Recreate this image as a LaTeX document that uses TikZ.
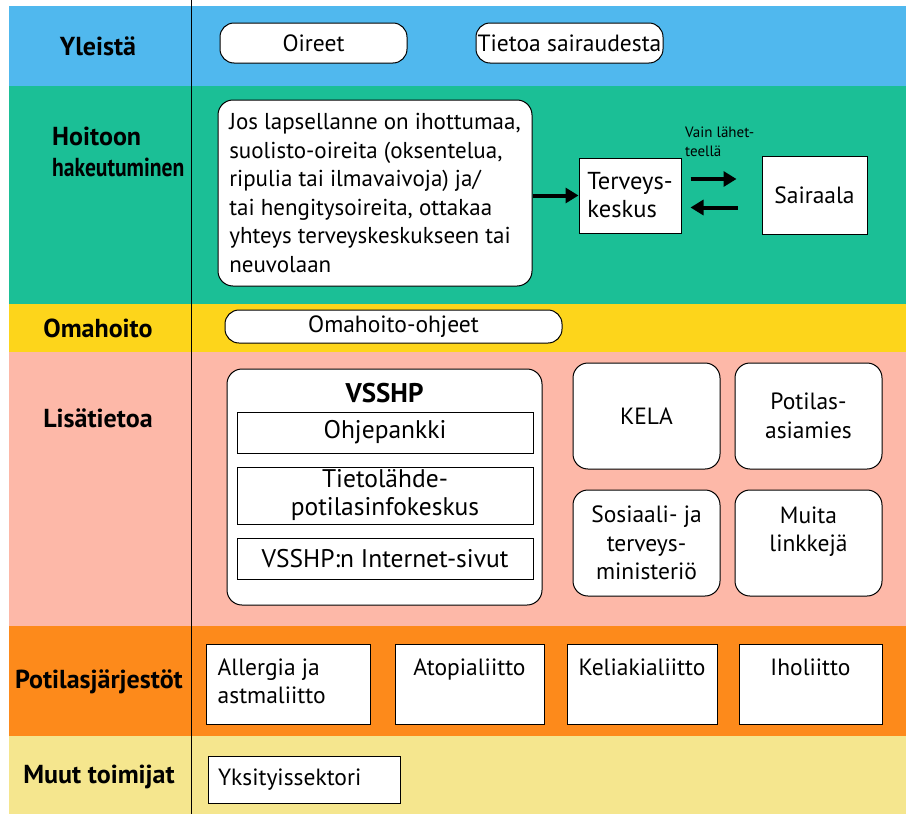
\documentclass[tikz,border=0pt]{standalone}
\usepackage{fontspec}
\setmainfont{PT Sans}
\usetikzlibrary{positioning, arrows.meta}

\definecolor{yleiscol}{RGB}{80,184,238}
\definecolor{hoitocol}{RGB}{27,191,150}
\definecolor{omacol}{RGB}{253,213,27}
\definecolor{lisacol}{RGB}{253,184,168}
\definecolor{jarjcol}{RGB}{253,138,27}
\definecolor{muutcol}{RGB}{245,230,142}

\begin{document}
\begin{tikzpicture}[
  x=1pt, y=-1pt,
  node distance=14pt,
  bandlabel/.style={font=\fontsize{26}{31}\selectfont\bfseries, align=left, inner sep=0pt},
  pill/.style={rectangle, rounded corners=14pt, draw, fill=white, line width=1pt, font=\fontsize{23.5}{28.5}\selectfont, inner sep=0pt},
  roundbox/.style={rectangle, rounded corners=15pt, draw, fill=white, line width=1pt, font=\fontsize{23.5}{28.5}\selectfont, align=center, inner sep=0pt},
  plainbox/.style={rectangle, draw, fill=white, line width=1pt, font=\fontsize{23.5}{28}\selectfont, align=left, inner sep=0pt},
  innerbox/.style={rectangle, draw, fill=white, line width=0.8pt, minimum width=296pt, font=\fontsize{25.5}{28}\selectfont, align=center, inner sep=0pt},
  orgbox/.style={rectangle, draw, fill=white, line width=1pt, minimum height=80pt, inner sep=0pt},
  boxtext/.style={anchor=north, inner sep=0pt, yshift=-15pt, font=\fontsize{23.5}{28}\selectfont, align=center},
  smalltext/.style={font=\fontsize{15}{19}\selectfont, align=left, inner sep=0pt},
  arrow/.style={-{Triangle[length=13pt,width=15pt]}, line width=4pt},
]

% Bands
\useasboundingbox (0,0) rectangle (906,814);
\fill[yleiscol] (9,6) rectangle (906,86);
\fill[hoitocol] (9,86) rectangle (906,304);
\fill[omacol] (9,304) rectangle (906,352);
\fill[lisacol] (9,352) rectangle (906,626);
\fill[jarjcol] (9,626) rectangle (906,736);
\fill[muutcol] (9,736) rectangle (906,814);
\draw[line width=0.8pt] (191,0) -- (191,814);

% Band titles
\node[bandlabel] (yleista) at (98,46) {Yleistä};
\node[bandlabel, anchor=west] (hoitoon) at (52,152) {Hoitoon\\\scalebox{0.83}[1]{hakeutuminen}};
\node[bandlabel] (omahoitoband) at (98,328) {Omahoito};
\node[bandlabel] (lisatietoa) at (98,418) {Lisätietoa};
\node[bandlabel] (jarjestot) at (99,682) {Potilasjärjestöt};
\node[bandlabel] (muut) at (99,777) {Muut toimijat};

% Yleistä
\node[pill, minimum width=187pt, minimum height=40pt] (oireet) at (313.5,43) {Oireet};
\node[pill, minimum width=187pt, minimum height=40pt] (tietoa) at (569.5,43) {Tietoa sairaudesta};

% Hoitoon hakeutuminen
\node[roundbox, minimum width=314pt, minimum height=186pt, align=left, font=\fontsize{23}{28.5}\selectfont] (hakeutuminen) at (375,193)
  {Jos lapsellanne on ihottumaa,\\suolisto-oireita (oksentelua,\\ripulia tai ilmavaivoja) ja/\\tai hengitysoireita, ottakaa\\yhteys terveyskeskukseen tai\\neuvolaan};
\node[plainbox, minimum width=102pt, minimum height=75pt, font=\fontsize{24.5}{28}\selectfont] (terveys) at (630,195.5) {Terveys-\\keskus};
\node[plainbox, minimum width=105pt, minimum height=78pt] (sairaala) at (814.5,195) {Sairaala};
\node[smalltext, anchor=north west] (vain) at (685,127) {Vain lähet-\\teellä};

\draw[arrow] (hakeutuminen.east |- terveys) -- (terveys);
\draw[arrow, shorten <=9pt, shorten >=25pt] ([yshift=16.5pt]terveys.east) -- ([yshift=16.5pt]terveys.east -| sairaala.west);
\draw[arrow, shorten <=24pt, shorten >=9pt] ([yshift=-12.5pt]sairaala.west) -- ([yshift=-12.5pt]sairaala.west -| terveys.east);

% Omahoito
\node[pill, minimum width=337pt, minimum height=33pt] (omahoito) at (393.5,326.5) {Omahoito-ohjeet};

% Lisätietoa
\node[roundbox, minimum width=315pt, minimum height=236pt] (vsshp) at (384.5,487) {};
\node[font=\fontsize{27}{28}\selectfont\bfseries, inner sep=0pt] (vsshptitle) at (384.5,393) {VSSHP};
\node[innerbox, minimum height=41pt] (ohjepankki) at (385,432.5) {Ohjepankki};
\node[innerbox, minimum height=57pt] (tietolahde) at (385,495.5) {Tietolähde-\\potilasinfokeskus};
\node[innerbox, minimum height=41pt] (internet) at (385,558.5) {VSSHP:n Internet-sivut};

\node[roundbox, minimum width=147pt, minimum height=106pt] (kela) at (646.5,416) {KELA};
\node[roundbox, minimum width=147pt, minimum height=106pt, right=of kela] (asiamies) {Potilas-\\asiamies};
\node[roundbox, minimum width=147pt, minimum height=106pt] (ministerio) at (646.5,543) {Sosiaali- ja\\terveys-\\ministeriö};
\node[roundbox, minimum width=147pt, minimum height=106pt, right=of ministerio,
  label={[boxtext, yshift=-2pt]north:{Muita\\linkkejä}}] (muita) {};

% Potilasjärjestöt
\node[orgbox, minimum width=164pt,
  label={[boxtext, anchor=north west, align=left, xshift=12pt]north west:{Allergia ja\\astmaliitto}}] (allergia) at (288,684) {};
\node[orgbox, minimum width=149pt, right=24pt of allergia, label={[boxtext]north:Atopialiitto}] (atopia) {};
\node[orgbox, minimum width=150pt, right=22pt of atopia, label={[boxtext]north:Keliakialiitto}] (keliakia) {};
\node[orgbox, minimum width=143pt, right=21pt of keliakia, label={[boxtext]north:Iholiitto}] (iholiitto) {};

% Muut toimijat
\node[plainbox, minimum width=192pt, minimum height=47pt, text width=172pt] (yksityis) at (304,779.5) {Yksityissektori};

\end{tikzpicture}
\end{document}
